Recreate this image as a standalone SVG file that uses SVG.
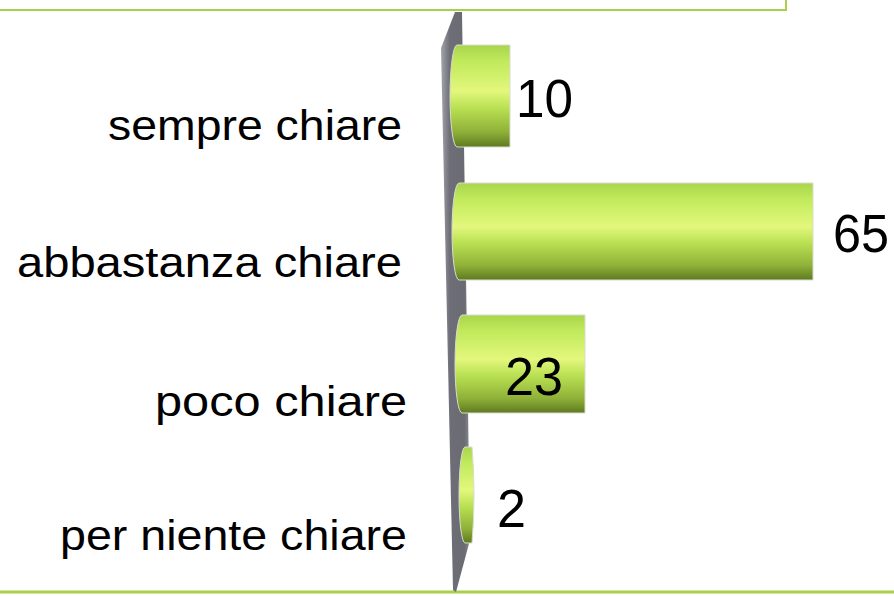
<svg xmlns="http://www.w3.org/2000/svg" width="894" height="596" viewBox="0 0 894 596">
<defs>
<linearGradient id="barG" x1="0" y1="0" x2="0" y2="1">
<stop offset="0" stop-color="#a9d44c"/>
<stop offset="0.15" stop-color="#bfe95a"/>
<stop offset="0.45" stop-color="#e3f77c"/>
<stop offset="0.62" stop-color="#b9e052"/>
<stop offset="0.85" stop-color="#8fb138"/>
<stop offset="1" stop-color="#5e7a20"/>
</linearGradient>
<linearGradient id="capG" x1="0" y1="0" x2="0" y2="1">
<stop offset="0" stop-color="#b9e25a"/>
<stop offset="0.45" stop-color="#e8f98a"/>
<stop offset="1" stop-color="#7a9a2c"/>
</linearGradient>
<linearGradient id="wallG" x1="0" y1="0" x2="1" y2="0">
<stop offset="0" stop-color="#a4a4aa"/>
<stop offset="0.3" stop-color="#6e6e78"/>
<stop offset="0.8" stop-color="#6a6a72"/>
<stop offset="1" stop-color="#8a8a90"/>
</linearGradient>
<style>
.lbl{font-family:"Liberation Sans",Arial,sans-serif;font-size:42px;fill:#000;text-anchor:end}
.val{font-family:"Liberation Sans",Arial,sans-serif;font-size:53px;fill:#000}
.bar{fill:url(#barG);stroke:#d8dcd0;stroke-width:1}
.frame{fill:none;stroke:#a8d04a}
</style>
</defs>
<g id="frame">
<polyline class="frame" points="0,10 786,10 786,0" stroke-width="2"/>
<line class="frame" x1="0" y1="592" x2="894" y2="592" stroke-width="3"/>
</g>
<g id="axis">
<path d="M455,12 L462,12 L470,540 L456,592 L453,590 L441,48 Z" fill="url(#wallG)"/>
</g>
<g id="bar-sempre">
<path class="bar" d="M457,45 L510,45 L510,147 L457,147 A7,51 0 0 1 457,45 Z"/>
<text class="lbl" x="402" y="140" textLength="294" lengthAdjust="spacingAndGlyphs">sempre chiare</text>
<text class="val" x="516" y="117" textLength="57" lengthAdjust="spacingAndGlyphs">10</text>
</g>
<g id="bar-abbastanza">
<path class="bar" d="M459,183 L813,183 L813,280 L459,280 A7,48.5 0 0 1 459,183 Z"/>
<text class="lbl" x="402" y="277" textLength="385" lengthAdjust="spacingAndGlyphs">abbastanza chiare</text>
<text class="val" x="833" y="252" textLength="56" lengthAdjust="spacingAndGlyphs">65</text>
</g>
<g id="bar-poco">
<path class="bar" d="M462,315 L585,315 L585,413 L462,413 A7,49 0 0 1 462,315 Z"/>
<text class="lbl" x="407" y="416" textLength="252" lengthAdjust="spacingAndGlyphs">poco chiare</text>
<text class="val" x="505" y="395" textLength="58" lengthAdjust="spacingAndGlyphs">23</text>
</g>
<g id="bar-niente">
<path class="bar" d="M465,447 L472,447 Q476,495 472,543 L465,543 A6,48 0 0 1 465,447 Z"/>
<text class="lbl" x="407" y="550" textLength="347" lengthAdjust="spacingAndGlyphs">per niente chiare</text>
<text class="val" x="497" y="527" textLength="29" lengthAdjust="spacingAndGlyphs">2</text>
</g>
</svg>
